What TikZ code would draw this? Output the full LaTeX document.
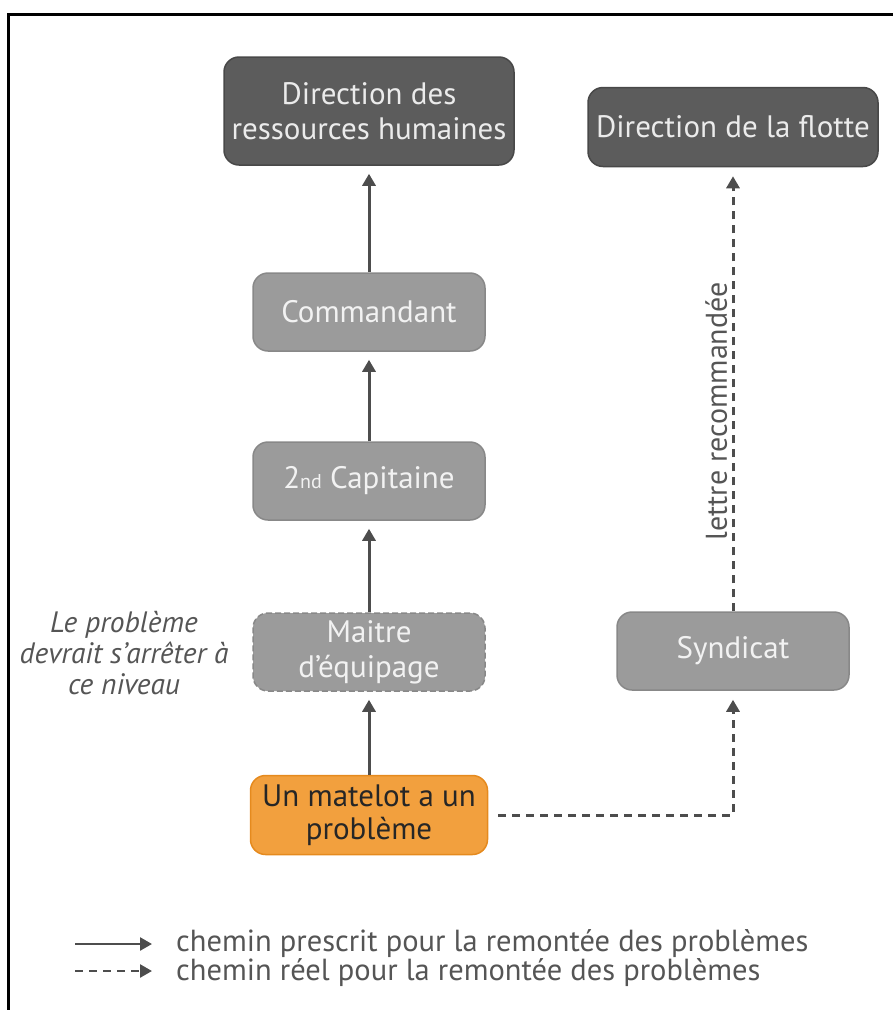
\documentclass[tikz,border=0pt]{standalone}
\usepackage{fontspec}
\setmainfont{PT Sans}
\usetikzlibrary{arrows.meta}
\definecolor{darkbox}{HTML}{5C5C5C}
\definecolor{darkline}{HTML}{484848}
\definecolor{midbox}{HTML}{9B9B9B}
\definecolor{midline}{HTML}{888888}
\definecolor{orangebox}{HTML}{F2A03E}
\definecolor{orangeline}{HTML}{E58A1E}
\definecolor{arrowgray}{HTML}{4D4D4D}
\definecolor{textgray}{HTML}{555555}
\begin{document}
\begin{tikzpicture}[x=1pt,y=-1pt,
    box/.style = {rounded corners=15pt, line width=1.5pt, align=center, inner sep=0pt,
        font=\fontsize{31}{35}\selectfont},
    topbox/.style = {box, fill=darkbox, draw=darkline, text=white!92!black},
    midbox/.style = {box, fill=midbox, draw=midline, text=white!95!black,
        minimum width=232pt, minimum height=78pt},
    startbox/.style = {box, fill=orangebox, draw=orangeline, text=black!85,
        minimum width=237pt, minimum height=79pt, font=\fontsize{31}{33}\selectfont},
    prescrit/.style = {draw=arrowgray, line width=3pt, -{Triangle[length=12pt,width=13pt]}},
    reel/.style = {draw=arrowgray, line width=3pt, dash pattern=on 8pt off 6pt,
        -{Triangle[length=12pt,width=13pt]}}]
    \useasboundingbox (0,0) rectangle (893,1010);
    \draw [black, line width=3pt] (8.5,1010) -- (8.5,14.5) -- (893,14.5);
    % boxes
    \node [topbox, minimum width=290pt, minimum height=108pt] (drh) at (369,111) {Direction des\\ressources humaines};
    \node [topbox, minimum width=290pt, minimum height=79pt] (flotte) at (733,127) {Direction de la flotte};
    \node [midbox] (commandant) at (369,312) {Commandant};
    \node [midbox] (capitaine) at (369,481) {2{\fontsize{20}{22}\selectfont nd} Capitaine};
    \node [midbox, dash pattern=on 6pt off 3pt] (maitre) at (369,652) {Maitre\\d’équipage};
    \node [midbox] (syndicat) at (733,651) {Syndicat};
    \node [startbox] (matelot) at (369,815) {Un matelot a un\\problème};
    % arrows
    \draw [prescrit, shorten >=8pt] (matelot.north) -- (maitre.south);
    \draw [prescrit, shorten >=8pt] (capitaine.north) -- (commandant.south);
    \draw [prescrit, shorten >=8pt] (commandant.north) -- (drh.south);
    \draw [prescrit, shorten >=8pt] (maitre.north) -- (capitaine.south);
    \draw [reel, shorten <=10pt, shorten >=9pt] (matelot.east) -| (syndicat.south);
    \draw [reel, shorten >=9pt] (syndicat.north) -- node [rotate=90, above=1pt, pos=0.45,
        text=textgray, font=\fontsize{30}{32}\selectfont] (lettre) {lettre recommandée} (flotte.south);
    \begin{scope}[font = \fontsize{30.5}{27}\selectfont, text = textgray]
        \node [align = center, font=\fontsize{29.5}{31}\selectfont\itshape] (note) at (124,653) {Le problème\\devrait s’arrêter à\\ce niveau};
        \coordinate (s1) at (75,944);
        \coordinate (s2) at (152,944);
        \coordinate (d1) at (75,971);
        \coordinate (d2) at (152,971);
        \draw [prescrit, line width=2.5pt] (s1) -- (s2);
        \draw [reel, line width=2.5pt] (d1) -- (d2);
        % legend: both lines in one node
        \node [anchor = west, align = left, inner sep = 0pt] (legende) at (176,958) {chemin prescrit pour la remontée des problèmes\\chemin réel pour la remontée des problèmes};
    \end{scope}
\end{tikzpicture}
\end{document}
